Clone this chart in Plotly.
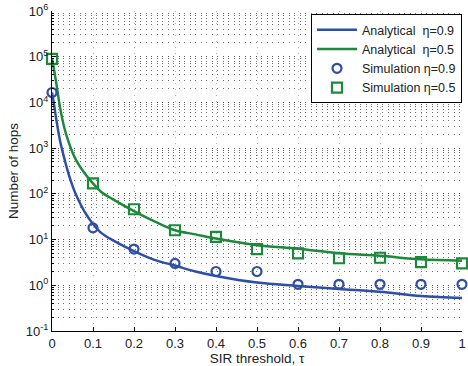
import plotly.graph_objects as go

# Analytical curves
tau_a = [0, 0.005, 0.01, 0.02, 0.03, 0.04, 0.05, 0.06, 0.08, 0.1, 0.12, 0.15,
         0.2, 0.25, 0.3, 0.35, 0.4, 0.5, 0.6, 0.7, 0.8, 0.9, 1.0]
ana_09 = [16500, 9000, 4500, 1400, 600, 280, 150, 90, 40, 22, 14, 9.5,
          5.6, 3.6, 2.7, 2.0, 1.6, 1.15, 0.97, 0.83, 0.72, 0.58, 0.53]
ana_05 = [90000, 52000, 28000, 7500, 2800, 1400, 800, 520, 280, 170, 110, 75,
          42, 25, 16, 13, 10.5, 7.5, 6.3, 5.0, 4.4, 3.7, 3.45]

# Simulation points
tau_s = [0, 0.1, 0.2, 0.3, 0.4, 0.5, 0.6, 0.7, 0.8, 0.9, 1.0]
sim_09 = [16500, 18, 6.2, 3.0, 2.0, 2.0, 1.05, 1.05, 1.05, 1.05, 1.05]
sim_05 = [90000, 170, 46, 16, 11.5, 6.2, 5.0, 3.9, 4.0, 3.2, 3.0]

x_ticks = [0, 0.1, 0.2, 0.3, 0.4, 0.5, 0.6, 0.7, 0.8, 0.9, 1]
y_exps = [-1, 0, 1, 2, 3, 4, 5, 6]
minor_digits = [2, 3, 4, 5, 6, 7, 8, 9]

BLUE = "#2f4fa6"
GREEN = "#1b8a3a"
NB = "\u00a0"

fig = go.Figure()
fig.add_trace(go.Scatter(x=tau_a, y=ana_09, mode="lines", line=dict(color=BLUE, width=2.5, shape="spline"),
                         name="Analytical" + NB + NB + "η=0.9"))
fig.add_trace(go.Scatter(x=tau_a, y=ana_05, mode="lines", line=dict(color=GREEN, width=2.5, shape="spline"),
                         name="Analytical" + NB + NB + "η=0.5"))
fig.add_trace(go.Scatter(x=tau_s, y=sim_09, mode="markers", cliponaxis=False,
                         marker=dict(symbol="circle-open", size=9, color=BLUE, line=dict(width=2.2, color=BLUE)),
                         name="Simulation" + NB + "η=0.9"))
fig.add_trace(go.Scatter(x=tau_s, y=sim_05, mode="markers", cliponaxis=False,
                         marker=dict(symbol="square-open", size=10, color=GREEN, line=dict(width=2.2, color=GREEN)),
                         name="Simulation" + NB + "η=0.5"))

minor_vals = [d * 10 ** e for e in y_exps[:-1] for d in minor_digits]

fig.update_layout(
    width=468, height=366,
    margin=dict(l=52, r=2, t=11, b=35),
    paper_bgcolor="white", plot_bgcolor="white",
    font=dict(family="Liberation Sans, Arial, sans-serif", size=12, color="#222"),
    showlegend=True,
    legend=dict(x=1.0, y=0.99, xanchor="right", yanchor="top",
                bgcolor="white", bordercolor="black", borderwidth=1,
                font=dict(size=12.5), tracegroupgap=0, itemwidth=40),
)
fig.update_xaxes(
    range=[0, 1], tickvals=x_ticks, ticktext=[str(v) for v in x_ticks],
    ticklabeloverflow="allow",
    showline=True, linecolor="black", linewidth=1,
    ticks="inside", ticklen=4, tickcolor="black",
    showgrid=True, gridcolor="#b0b0b0", griddash="1px,5px", gridwidth=1,
    zeroline=False, tickfont=dict(size=13),
    title=dict(text="SIR threshold, τ", font=dict(size=13.5), standoff=4),
)
fig.update_yaxes(
    type="log", range=[-1, 6],
    tickvals=[10 ** e for e in y_exps],
    ticktext=["10<sup>%d</sup>" % e for e in y_exps],
    ticklabeloverflow="allow",
    showline=True, linecolor="black", linewidth=1,
    ticks="inside", ticklen=4, tickcolor="black",
    showgrid=True, gridcolor="#555555", griddash="1px,4.5px", gridwidth=1,
    minor=dict(tickmode="array", tickvals=minor_vals,
               showgrid=True, gridcolor="#707070", griddash="1px,4.5px", gridwidth=1,
               ticks="inside", ticklen=2, tickcolor="black"),
    zeroline=False, tickfont=dict(size=13),
    title=dict(text="Number of hops", font=dict(size=13.5), standoff=4),
)

fig.write_html("out.html")
